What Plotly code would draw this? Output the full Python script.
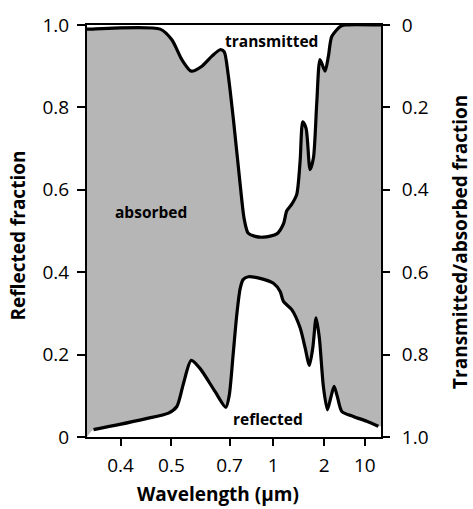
import plotly.graph_objects as go

# x values are in inverse wavelength (1/um); the axis is linear in 1/lambda, reversed
top_k = [2.83, 2.815, 2.111, 1.996, 1.898, 1.806, 1.701, 1.600, 1.522, 1.482, 1.443, 1.391,
         1.325, 1.286, 1.247, 1.178, 1.096, 0.965, 0.900, 0.867, 0.818, 0.769, 0.736, 0.710,
         0.677, 0.638, 0.605, 0.572, 0.540, 0.491, 0.458, 0.425, 0.343, 0.294, -0.059]
top_y = [0.99, 0.99, 0.99, 0.964, 0.916, 0.888, 0.900, 0.925, 0.940, 0.935, 0.88, 0.77,
         0.613, 0.53, 0.495, 0.487, 0.485, 0.493, 0.517, 0.549, 0.565, 0.589, 0.669, 0.765,
         0.749, 0.649, 0.677, 0.812, 0.916, 0.888, 0.924, 0.972, 0.996, 1.0, 1.0]

bot_k = [2.766, 2.520, 2.258, 2.029, 1.947, 1.882, 1.806, 1.718, 1.571, 1.466, 1.433, 1.394,
         1.358, 1.325, 1.296, 1.244, 1.129, 0.998, 0.932, 0.900, 0.818, 0.736, 0.687, 0.645,
         0.611, 0.579, 0.547, 0.507, 0.468, 0.432, 0.402, 0.370, 0.326, 0.213, 0.081, -0.033]
bot_y = [0.018, 0.030, 0.044, 0.058, 0.074, 0.130, 0.186, 0.166, 0.110, 0.072, 0.10, 0.20,
         0.297, 0.36, 0.382, 0.389, 0.385, 0.373, 0.353, 0.329, 0.309, 0.265, 0.217, 0.174,
         0.217, 0.289, 0.241, 0.122, 0.066, 0.098, 0.123, 0.098, 0.062, 0.050, 0.038, 0.026]

x_tick_labels = ["0.4", "0.5", "0.7", "1", "2", "10"]
x_tick_wavelengths = [0.4, 0.5, 0.7, 1.0, 2.0, 10.0]
y_ticks = [0, 0.2, 0.4, 0.6, 0.8, 1.0]
y_left_labels = ["0", "0.2", "0.4", "0.6", "0.8", "1.0"]
y_right_labels = ["0", "0.2", "0.4", "0.6", "0.8", "1.0"]

x_left, x_right = 2.83, -0.059

FONT = "Open Sans"
GRAY = "#b6b6b6"
SM = 0.7

fig = go.Figure()

# fill region (absorbed)
fill_bx = [x_left] + bot_k + [x_right]
fill_by = [0.0] + bot_y + [bot_y[-1]]
fig.add_trace(go.Scatter(x=fill_bx, y=fill_by, mode="lines",
                         line=dict(width=0, shape="spline", smoothing=SM, color=GRAY),
                         showlegend=False, hoverinfo="skip"))
fig.add_trace(go.Scatter(x=top_k, y=top_y, mode="lines", fill="tonexty", fillcolor=GRAY,
                         line=dict(width=0, shape="spline", smoothing=SM, color=GRAY),
                         showlegend=False, hoverinfo="skip"))
# curves
fig.add_trace(go.Scatter(x=top_k, y=top_y, mode="lines",
                         line=dict(width=3.2, shape="spline", smoothing=SM, color="black"),
                         showlegend=False))
fig.add_trace(go.Scatter(x=bot_k, y=bot_y, mode="lines",
                         line=dict(width=3.2, shape="spline", smoothing=SM, color="black"),
                         showlegend=False))
# dummy trace for right axis
fig.add_trace(go.Scatter(x=[1.0], y=[0.5], yaxis="y2", mode="markers",
                         marker=dict(opacity=0), showlegend=False, hoverinfo="skip"))

tickfont = dict(family=FONT, size=19, color="black")

fig.update_layout(
    width=473, height=509,
    margin=dict(l=87, r=92, t=20, b=72),
    paper_bgcolor="white", plot_bgcolor="white",
    xaxis=dict(range=[x_left, x_right], tickmode="array",
               tickvals=[1.0 / w for w in x_tick_wavelengths], ticktext=x_tick_labels,
               ticks="outside", ticklen=7, tickwidth=2, tickcolor="black",
               showline=True, linewidth=2, linecolor="black", mirror=True,
               showgrid=False, zeroline=False, tickfont=tickfont, ticklabelstandoff=3),
    yaxis=dict(range=[0, 1.0], tickmode="array", tickvals=y_ticks, ticktext=y_left_labels,
               ticks="outside", ticklen=8, tickwidth=2, tickcolor="black",
               showline=True, linewidth=2, linecolor="black",
               showgrid=False, zeroline=False, tickfont=tickfont, ticklabelstandoff=4),
    yaxis2=dict(range=[1.0, 0], overlaying="y", side="right", tickmode="array",
                tickvals=y_ticks, ticktext=y_right_labels,
                ticks="outside", ticklen=7, tickwidth=2, tickcolor="black",
                showline=True, linewidth=2, linecolor="black",
                showgrid=False, zeroline=False, tickfont=tickfont, ticklabelstandoff=8),
)

titlefont = dict(family=FONT, size=19, color="black")
fig.add_annotation(text="<b>Wavelength (µm)</b>", xref="paper", yref="paper",
                   x=0.446, y=-0.138, xanchor="center", yanchor="middle",
                   showarrow=False, font=titlefont)
fig.add_annotation(text="<b>Reflected fraction</b>", xref="paper", yref="paper",
                   x=-0.235, y=0.489, xanchor="center", yanchor="middle", textangle=-90,
                   showarrow=False, font=titlefont)
fig.add_annotation(text="<b>Transmitted/absorbed fraction</b>", xref="paper", yref="paper",
                   x=1.268, y=0.473, xanchor="center", yanchor="middle", textangle=-90,
                   showarrow=False, font=titlefont)

labelfont = dict(family=FONT, size=15.5, color="black")
fig.add_annotation(text="<b>transmitted</b>", x=1.021, y=0.962, showarrow=False, font=labelfont)
fig.add_annotation(text="<b>absorbed</b>", x=2.199, y=0.547, showarrow=False, font=labelfont)
fig.add_annotation(text="<b>reflected</b>", x=1.050, y=0.044, showarrow=False, font=labelfont)

fig.write_html("out.html")
